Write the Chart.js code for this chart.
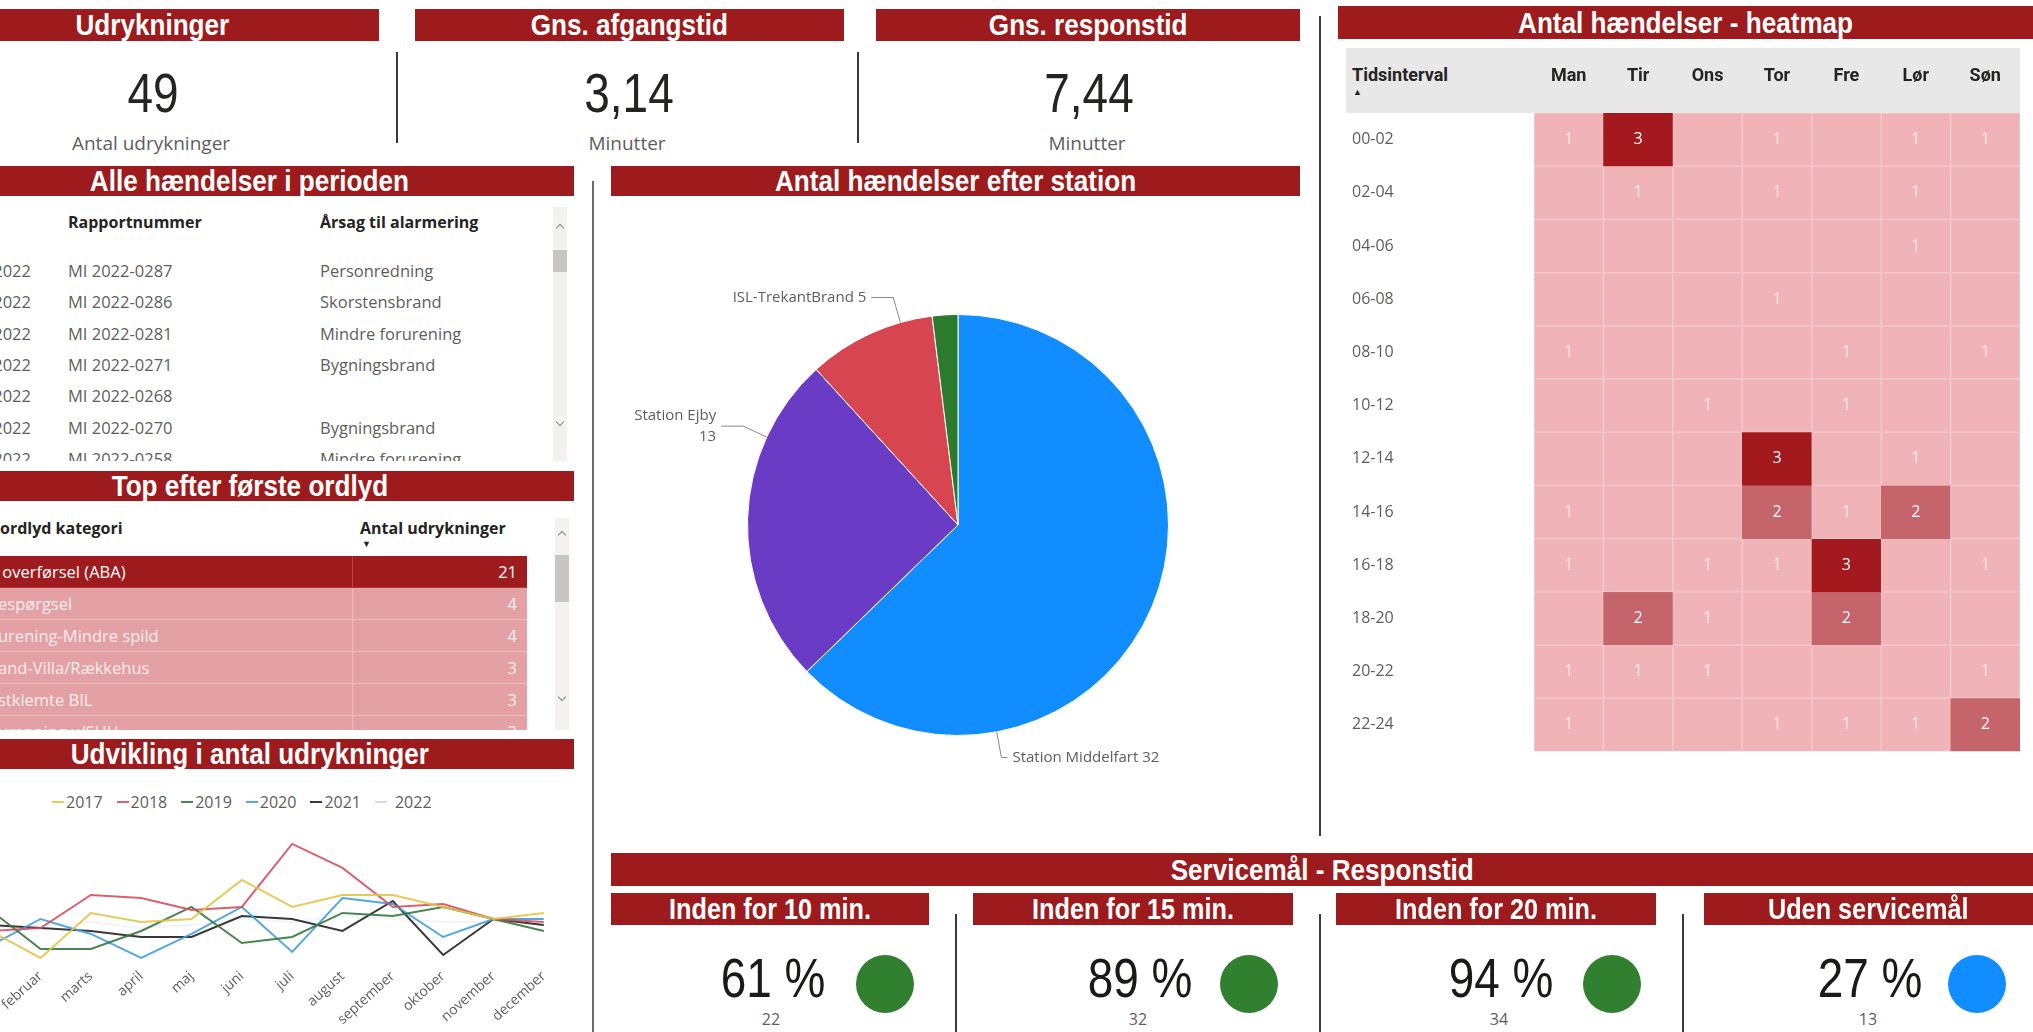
<!DOCTYPE html>
<html lang="da">
<head>
<meta charset="utf-8">
<title>Udrykninger - oversigt</title>
<script src="https://cdn.jsdelivr.net/npm/chart.js@4.4.1/dist/chart.umd.min.js"></script>
<style>
  html, body { margin: 0; padding: 0; }
  body { position: relative; width: 2033px; height: 1032px; overflow: hidden; background: #fff;
         font-family: "Segoe UI", "Open Sans", sans-serif; color: #605E5C; }
  .bar { position: absolute; background: #9D1B1D; color: #fff; text-align: center; white-space: nowrap; overflow: hidden;
         font-family: "Liberation Sans", Arial, sans-serif; font-weight: bold; font-size: 30px; }
  .bar span { display: inline-block; transform: scaleX(.87); }
  .txt { position: absolute; white-space: pre; line-height: 1; transform: translate(-50%, -50%); }
  .vline { position: absolute; width: 2px; background: #3b3a39; }
  .box { position: absolute; overflow: hidden; }
  .cell { position: absolute; white-space: pre; }
  .scroll { position: absolute; width: 14px; background: #F3F2F1; }
  .thumb { position: absolute; left: 0; width: 14px; background: #C8C6C4; }
  .chev { position: absolute; left: 4px; width: 5px; height: 5px; border-left: 1.5px solid #8A8886; border-top: 1.5px solid #8A8886; }
  .prik { position: absolute; width: 58px; height: 58px; border-radius: 50%; }
  .wrap { position: absolute; }
</style>
</head>
<body>

<div class="bar" style="left:-75px;top:9px;width:454px;height:32px;line-height:32px"><span>Udrykninger</span></div>
<div class="bar" style="left:415px;top:9px;width:429px;height:32px;line-height:32px"><span>Gns. afgangstid</span></div>
<div class="bar" style="left:876px;top:9px;width:424px;height:32px;line-height:32px"><span>Gns. responstid</span></div>
<div class="bar" style="left:1338px;top:6px;width:695px;height:33px;line-height:33px"><span>Antal hændelser - heatmap</span></div>
<div class="bar" style="left:-75px;top:166px;width:649px;height:30px;line-height:30px"><span>Alle hændelser i perioden</span></div>
<div class="bar" style="left:611px;top:166px;width:689px;height:30px;line-height:30px"><span>Antal hændelser efter station</span></div>
<div class="bar" style="left:-75px;top:471px;width:649px;height:30px;line-height:30px"><span>Top efter første ordlyd</span></div>
<div class="bar" style="left:-75px;top:739px;width:649px;height:30px;line-height:30px"><span>Udvikling i antal udrykninger</span></div>
<div class="bar" style="left:611px;top:853px;width:1422px;height:33px;line-height:33px"><span>Servicemål - Responstid</span></div>

<div class="vline" style="left:396px;top:52px;height:91px"></div>
<div class="vline" style="left:857px;top:52px;height:91px"></div>
<div class="vline" style="left:1319px;top:16px;height:820px"></div>
<div class="vline" style="left:592px;top:181px;height:851px;background:#6f6d6b"></div>
<div class="vline" style="left:955px;top:914px;height:118px"></div>
<div class="vline" style="left:1319px;top:914px;height:118px"></div>
<div class="vline" style="left:1682px;top:914px;height:118px"></div>

<div id="tabel1" class="box" style="left:0;top:200px;width:574px;height:261px"></div>
<div id="tabel2" class="box" style="left:0;top:505px;width:574px;height:225px"></div>

<div class="scroll" style="left:553px;top:207px;height:254px">
  <div class="chev" style="top:18px;transform:rotate(45deg)"></div>
  <div class="thumb" style="top:43px;height:22px"></div>
  <div class="chev" style="top:212px;transform:rotate(225deg)"></div>
</div>
<div class="scroll" style="left:555px;top:518px;height:212px">
  <div class="chev" style="top:14px;transform:rotate(45deg)"></div>
  <div class="thumb" style="top:37px;height:47px"></div>
  <div class="chev" style="top:176px;transform:rotate(225deg)"></div>
</div>

<div id="legende" style="position:absolute;left:52px;top:792px;height:20px;display:flex;align-items:center;font-size:16px;color:#605E5C"></div>
<div id="linjeWrap" class="wrap" style="left:-60px;top:820px;width:700px;height:220px"><canvas id="linje"></canvas></div>

<div class="wrap" style="left:618px;top:264px;width:680px;height:522px"><canvas id="pie"></canvas></div>

<div style="position:absolute;left:1346px;top:48px;width:674px;height:65px;background:#E8E8E8"></div>
<div style="position:absolute;left:1352px;top:64px;font-family:Roboto,sans-serif;font-size:18px;font-weight:bold;color:#252423">Tidsinterval</div>
<div style="position:absolute;left:1353px;top:85px;font-size:9px;color:#252423">&#9650;</div>
<div class="wrap" style="left:1345px;top:48px;width:688px;height:716px"><canvas id="heat"></canvas></div>

<div class="bar" style="left:611px;top:893px;width:318px;height:32px;line-height:32px;font-size:29px"><span>Inden for 10 min.</span></div>
<div class="bar" style="left:973px;top:893px;width:320px;height:32px;line-height:32px;font-size:29px"><span>Inden for 15 min.</span></div>
<div class="bar" style="left:1336px;top:893px;width:320px;height:32px;line-height:32px;font-size:29px"><span>Inden for 20 min.</span></div>
<div class="bar" style="left:1704px;top:893px;width:329px;height:32px;line-height:32px;font-size:29px"><span>Uden servicemål</span></div>

<script>
// Nøgletal
const kpiVaerdier = ['49', '3,14', '7,44'];
const kpiTekster = ['Antal udrykninger', 'Minutter', 'Minutter'];

// Alle hændelser i perioden
const haendelsesAar = ['2022', '2022', '2022', '2022', '2022', '2022', '2022'];
const rapportnumre = ['MI 2022-0287', 'MI 2022-0286', 'MI 2022-0281', 'MI 2022-0271', 'MI 2022-0268', 'MI 2022-0270', 'MI 2022-0258'];
const aarsager = ['Personredning', 'Skorstensbrand', 'Mindre forurening', 'Bygningsbrand', '', 'Bygningsbrand', 'Mindre forurening'];

// Top efter første ordlyd (venstre del af teksten er beskåret)
const ordlydKategorier = [' overførsel (ABA)', 'espørgsel', 'urening-Mindre spild', 'and-Villa/Rækkehus', 'stklemte BIL', 'umpning v/SUH'];
const ordlydAntal = [21, 4, 4, 3, 3, 3];

// Udvikling i antal udrykninger
const maaneder = ['januar', 'februar', 'marts', 'april', 'maj', 'juni', 'juli', 'august', 'september', 'oktober', 'november', 'december'];
const aarstal = ['2017', '2018', '2019', '2020', '2021', '2022'];
const aar2017 = [23, 14, 29, 26, 27, 40, 31, 35, 35, 31, 27, 29];
const aar2018 = [23, 24, 35, 34, 30, 31, 52, 44, 31, 32, 27, 26];
const aar2019 = [30, 17, 17, 23, 31, 19, 21, 29, 28, 31, 27, 23];
const aar2020 = [18, 27, 22, 14, 22, 31, 16, 34, 32, 21, 27, 27];
const aar2021 = [25, 24, 23, 21, 21, 28, 27, 23, 33, 15, 27, 25];
const aar2022 = [24, 25, 26, 24, 25, 27, 26, 28, 27, 26, 26, 25];
const linjeFarver = ['rgba(226,196,70,0.9)', 'rgba(214,80,92,0.9)', 'rgba(52,120,62,0.9)', 'rgba(64,158,222,0.9)', 'rgba(37,36,35,0.9)', 'rgba(236,236,236,0.6)'];

// Antal hændelser efter station
const stationer = ['Station Middelfart', 'Station Ejby', 'ISL-TrekantBrand', 'Øvrige'];
const stationAntal = [32, 13, 5, 1];
const stationFarver = ['#118DFF', '#6A3CC6', '#D64550', '#2C7A2E'];

// Heatmap
const dage = ['Man', 'Tir', 'Ons', 'Tor', 'Fre', 'Lør', 'Søn'];
const intervaller = ['00-02', '02-04', '04-06', '06-08', '08-10', '10-12', '12-14', '14-16', '16-18', '18-20', '20-22', '22-24'];
const haendelser = [
  [1, 3, 0, 1, 0, 1, 1],
  [0, 1, 0, 1, 0, 1, 0],
  [0, 0, 0, 0, 0, 1, 0],
  [0, 0, 0, 1, 0, 0, 0],
  [1, 0, 0, 0, 1, 0, 1],
  [0, 0, 1, 0, 1, 0, 0],
  [0, 0, 0, 3, 0, 1, 0],
  [1, 0, 0, 2, 1, 2, 0],
  [1, 0, 1, 1, 3, 0, 1],
  [0, 2, 1, 0, 2, 0, 0],
  [1, 1, 1, 0, 0, 0, 1],
  [1, 0, 0, 1, 1, 1, 2]
];

// Servicemål
const serviceProcent = ['61 %', '89 %', '94 %', '27 %'];
const serviceAntal = ['22', '32', '34', '13'];
const serviceFarver = ['#31802F', '#31802F', '#31802F', '#118DFF'];

const sans = '"Segoe UI", "Open Sans", sans-serif';
const tal = { fontFamily: '"Liberation Sans", Arial, sans-serif', fontSize: '56px', transform: 'translate(-50%, -50%) scaleX(.82)' };

function tekst(parent, t, cx, cy, css) {
  const d = document.createElement('div');
  d.className = 'txt';
  d.textContent = t;
  d.style.left = cx + 'px';
  d.style.top = cy + 'px';
  Object.assign(d.style, css || {});
  parent.appendChild(d);
  return d;
}

function celle(parent, t, css) {
  const d = document.createElement('div');
  d.className = 'cell';
  d.textContent = t;
  Object.assign(d.style, css);
  parent.appendChild(d);
  return d;
}

// nøgletal
const kpiX = [153, 629, 1089];
kpiVaerdier.forEach((v, i) => {
  tekst(document.body, v, kpiX[i], 93, Object.assign({ color: '#252423' }, tal));
  tekst(document.body, kpiTekster[i], kpiX[i] - 2, 143, { fontSize: '19px' });
});

// servicemål
const svcX = [773, 1140, 1501, 1870];
const prikX = [885, 1249, 1612, 1977];
serviceProcent.forEach((p, i) => {
  tekst(document.body, p, svcX[i], 978, Object.assign({ color: '#1b1a19' }, tal));
  tekst(document.body, serviceAntal[i], svcX[i] - 2, 1019, { fontSize: '16px' });
  const d = document.createElement('div');
  d.className = 'prik';
  d.style.left = (prikX[i] - 29) + 'px';
  d.style.top = (984 - 29) + 'px';
  d.style.background = serviceFarver[i];
  document.body.appendChild(d);
});

// tabel: alle hændelser
const t1 = document.getElementById('tabel1');
celle(t1, 'Rapportnummer', { left: '68px', top: '8px', lineHeight: '28px', fontSize: '16px', fontWeight: 'bold', color: '#252423' });
celle(t1, 'Årsag til alarmering', { left: '320px', top: '8px', lineHeight: '28px', fontSize: '16px', fontWeight: 'bold', color: '#252423' });
rapportnumre.forEach((nr, i) => {
  const top = (55 + i * 31.3) + 'px';
  const base = { top: top, lineHeight: '31px', fontSize: '16.5px', color: '#605E5C' };
  celle(t1, haendelsesAar[i], Object.assign({ left: '-100px', width: '131px', textAlign: 'right' }, base));
  celle(t1, nr, Object.assign({ left: '68px' }, base));
  celle(t1, aarsager[i], Object.assign({ left: '320px' }, base));
});

// tabel: top efter første ordlyd
const t2 = document.getElementById('tabel2');
celle(t2, 'ordlyd kategori', { left: '0px', top: '9px', lineHeight: '28px', fontSize: '16px', fontWeight: 'bold', color: '#252423' });
celle(t2, 'Antal udrykninger', { left: '360px', top: '9px', lineHeight: '28px', fontSize: '16px', fontWeight: 'bold', color: '#252423' });
celle(t2, '\u25BC', { left: '362px', top: '32px', fontSize: '9px', color: '#252423' });
ordlydKategorier.forEach((k, i) => {
  const forst = i === 0;
  const row = celle(t2, '', {
    left: '0px', top: (51 + i * 32) + 'px', width: '527px', height: '32px',
    background: forst ? '#9E1B1E' : '#E3A1A5', borderBottom: '1px solid ' + (forst ? '#b0383b' : '#ECC0C3'), boxSizing: 'border-box'
  });
  celle(row, '', { left: '352px', top: '0px', width: '1px', height: '32px', background: forst ? '#B2474A' : '#EDBDC0' });
  const farve = forst ? '#ffffff' : '#FCEDEE';
  celle(row, k, { left: '-2px', top: '0px', lineHeight: '31px', fontSize: '16.5px', color: farve });
  celle(row, String(ordlydAntal[i]), { left: '400px', width: '117px', textAlign: 'right', top: '0px', lineHeight: '31px', fontSize: '16.5px', color: farve });
});

// linjediagram
const linjeWrap = document.getElementById('linjeWrap');
const aarData = [aar2017, aar2018, aar2019, aar2020, aar2021, aar2022];
const linjeChart = new Chart(document.getElementById('linje'), {
  type: 'line',
  data: {
    labels: maaneder,
    datasets: aarstal.map((aar, i) => ({
      label: aar,
      data: aarData[i],
      borderColor: linjeFarver[i],
      borderWidth: 2,
      pointRadius: 0,
      tension: 0,
      fill: false
    }))
  },
  options: {
    responsive: true,
    maintainAspectRatio: false,
    animation: false,
    layout: { padding: { left: 0, right: 0, top: 0, bottom: 0 } },
    plugins: { legend: { display: false }, tooltip: { enabled: false } },
    scales: {
      x: {
        grid: { display: false, drawTicks: false },
        border: { display: false },
        ticks: { autoSkip: false, maxRotation: 42, minRotation: 42, padding: 4, color: '#605E5C', font: { family: sans, size: 14 } }
      },
      y: { display: false, min: 12, max: 56 }
    }
  }
});

// plotområdet skal ligge som i rapporten (januar ligger uden for billedet)
for (let k = 0; k < 4; k++) {
  const a = linjeChart.chartArea;
  const p = linjeChart.options.layout.padding;
  linjeChart.options.layout.padding = {
    left: 0,
    right: (p.right || 0) + (a.right - a.left) - 553.6,
    top: (p.top || 0) + (a.bottom - a.top) - 132,
    bottom: 0
  };
  linjeChart.update('none');
}
linjeWrap.style.left = (-9.6 - linjeChart.chartArea.left) + 'px';
linjeWrap.style.top = (832 - linjeChart.chartArea.top) + 'px';

const legende = document.getElementById('legende');
linjeChart.data.datasets.forEach((ds, i) => {
  const item = document.createElement('div');
  item.style.display = 'flex';
  item.style.alignItems = 'center';
  item.style.marginRight = '14px';
  const streg = document.createElement('span');
  streg.style.display = 'inline-block';
  streg.style.width = '12px';
  streg.style.height = '2px';
  streg.style.marginRight = i === 5 ? '8px' : '2px';
  streg.style.background = i === 5 ? '#DADADA' : ds.borderColor;
  const navn = document.createElement('span');
  navn.textContent = ds.label;
  item.appendChild(streg);
  item.appendChild(navn);
  legende.appendChild(item);
});

// lagkage med etiketter
const pieEtiketter = {
  id: 'pieEtiketter',
  afterDatasetsDraw(chart, args, opts) {
    const { ctx } = chart;
    const meta = chart.getDatasetMeta(0);
    const ds = chart.data.datasets[0];
    ctx.save();
    ctx.font = '15px ' + sans;
    ctx.fillStyle = '#605E5C';
    ctx.strokeStyle = '#8A8886';
    ctx.lineWidth = 1;
    ctx.textBaseline = 'middle';
    meta.data.forEach((arc, i) => {
      if (!opts.vis[i]) return;
      const p = arc.getProps(['x', 'y', 'startAngle', 'endAngle', 'outerRadius'], true);
      const a = p.startAngle + 0.75 * (p.endAngle - p.startAngle);
      const c = Math.cos(a), s = Math.sin(a);
      const x1 = p.x + p.outerRadius * c, y1 = p.y + p.outerRadius * s;
      const x2 = p.x + (p.outerRadius + 26) * c, y2 = p.y + (p.outerRadius + 26) * s;
      const dir = c >= 0 ? 1 : -1;
      const x3 = x2 + dir * (dir > 0 ? 6 : 22);
      ctx.beginPath();
      ctx.moveTo(x1, y1);
      ctx.lineTo(x2, y2);
      ctx.lineTo(x3, y2);
      ctx.stroke();
      ctx.textAlign = dir > 0 ? 'left' : 'right';
      const tx = x3 + dir * 5;
      const navn = chart.data.labels[i];
      if (opts.ombryd[i]) {
        ctx.fillText(navn, tx, y2 - 10);
        ctx.fillText(String(ds.data[i]), tx, y2 + 11);
      } else {
        ctx.fillText(navn + ' ' + ds.data[i], tx, y2);
      }
    });
    ctx.restore();
  }
};

new Chart(document.getElementById('pie'), {
  type: 'pie',
  data: {
    labels: stationer,
    datasets: [{ data: stationAntal, backgroundColor: stationFarver, borderColor: '#ffffff', borderWidth: 1 }]
  },
  options: {
    responsive: true,
    maintainAspectRatio: false,
    animation: false,
    layout: { padding: { left: 129, right: 129, top: 50, bottom: 50 } },
    plugins: {
      legend: { display: false },
      tooltip: { enabled: false },
      pieEtiketter: { vis: [true, true, true, false], ombryd: [false, true, false, false] }
    }
  },
  plugins: [pieEtiketter]
});

// heatmap som flydende søjler
function celleFarve(v) {
  if (v >= 3) return '#A3191E';
  if (v === 2) return '#C5656B';
  return '#F0B4B8';
}

const celleTal = {
  id: 'celleTal',
  afterDatasetsDraw(chart) {
    const { ctx } = chart;
    ctx.save();
    ctx.font = '16px ' + sans;
    ctx.textAlign = 'center';
    ctx.textBaseline = 'middle';
    chart.data.datasets.forEach((ds, r) => {
      chart.getDatasetMeta(r).data.forEach((bar, c) => {
        const v = haendelser[r][c];
        if (!v) return;
        const p = bar.getProps(['x', 'y', 'base'], true);
        ctx.fillStyle = v === 1 ? 'rgba(255,255,255,0.7)' : '#ffffff';
        ctx.fillText(String(v), p.x, (p.y + p.base) / 2);
      });
    });
    ctx.restore();
  }
};

new Chart(document.getElementById('heat'), {
  type: 'bar',
  data: {
    labels: dage,
    datasets: intervaller.map((iv, r) => ({
      label: iv,
      data: dage.map(() => [r, r + 1]),
      backgroundColor: ctx => celleFarve(haendelser[r][ctx.dataIndex]),
      borderColor: ctx => haendelser[r][ctx.dataIndex] >= 2 ? celleFarve(haendelser[r][ctx.dataIndex]) : '#F5CACD',
      borderWidth: 1,
      borderSkipped: false,
      grouped: false,
      categoryPercentage: 1,
      barPercentage: 1
    }))
  },
  options: {
    responsive: true,
    maintainAspectRatio: false,
    animation: false,
    layout: { padding: { left: 7, right: 13, top: 0, bottom: 0 } },
    plugins: { legend: { display: false }, tooltip: { enabled: false } },
    scales: {
      x: {
        position: 'top',
        offset: true,
        grid: { display: false, drawTicks: false },
        border: { display: false },
        ticks: { color: '#252423', padding: 26, font: { family: 'Roboto, sans-serif', weight: 'bold', size: 18 } },
        afterFit: s => { s.height = 65; }
      },
      y: {
        min: 0,
        max: 12,
        reverse: true,
        grid: { display: false, drawTicks: false },
        border: { display: false },
        afterBuildTicks: s => { s.ticks = intervaller.map((_, i) => ({ value: i + 0.5 })); },
        afterFit: s => { s.width = 182; },
        ticks: {
          autoSkip: false,
          crossAlign: 'far',
          color: '#605E5C',
          font: { family: sans, size: 16 },
          callback: v => intervaller[Math.floor(v)]
        }
      }
    }
  },
  plugins: [celleTal]
});
</script>
</body>
</html>
